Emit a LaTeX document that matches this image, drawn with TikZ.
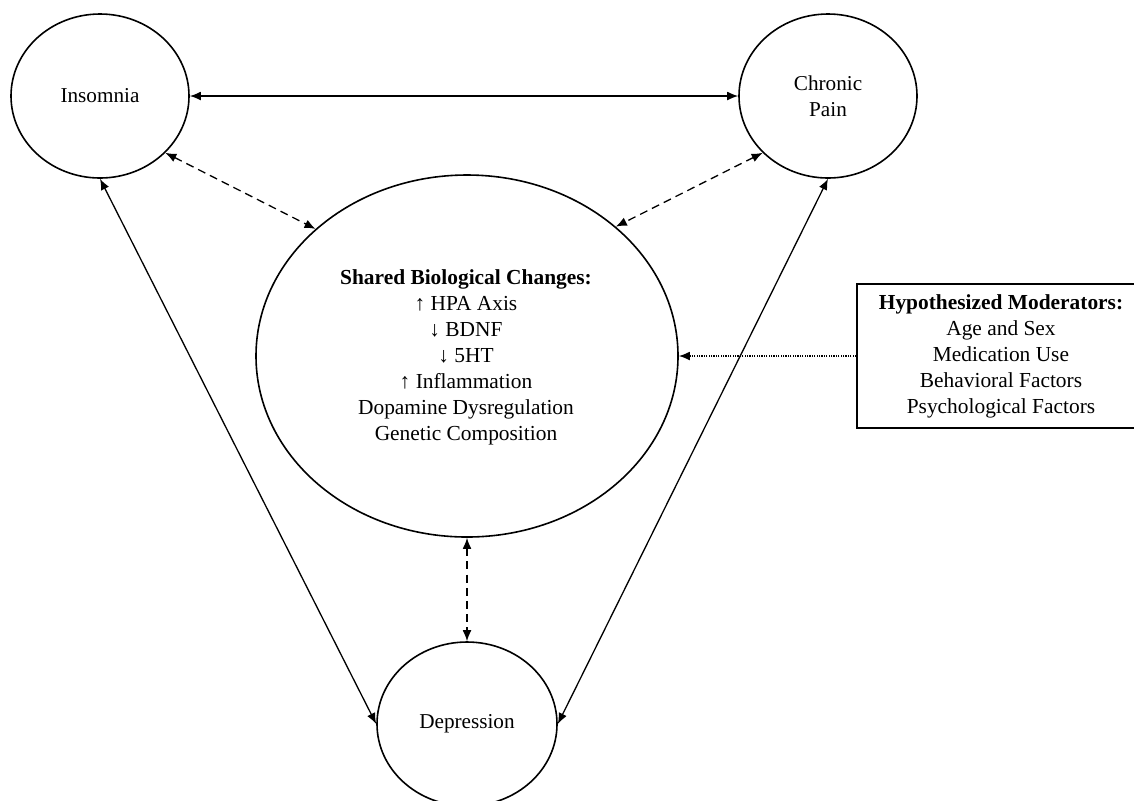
\documentclass[tikz,border=0pt]{standalone}
\usepackage{fontspec}
\setmainfont{Liberation Serif}
\usetikzlibrary{shapes.geometric,arrows.meta}
\begin{document}
\begin{tikzpicture}[x=0.5pt,y=-0.5pt,
  oval/.style={draw,ellipse,line width=0.8pt,inner sep=0pt,align=center,font=\fontsize{10.6pt}{13pt}\selectfont},
  tip/.style={-{Latex[length=5.5pt,width=4.4pt]}},
  both/.style={{Latex[length=5.5pt,width=4.4pt]}-{Latex[length=5.5pt,width=4.4pt]}},
  conn/.style={line width=0.65pt},
  dsh/.style={conn,dash pattern=on 4pt off 2.6pt},
  dtt/.style={line width=0.65pt,dash pattern=on 0.6pt off 0.6pt},
  modbox/.style={draw,line width=0.8pt,inner sep=0pt,align=center,minimum width=144pt,minimum height=72pt,font=\fontsize{10.7pt}{13pt}\selectfont}]
\useasboundingbox (0,0) rectangle (1134,800);
\node[oval,minimum width=89pt,minimum height=82pt] (ins) at (100,96) {Insomnia};
\node[oval,minimum width=89pt,minimum height=82pt] (pain) at (828,96) {Chronic\\Pain};
\node[oval,minimum width=211pt,minimum height=181pt] (bio) at (467,356) {};
\node[align=center,font=\fontsize{10.7pt}{13pt}\selectfont] (biotxt) at (466,357)
  {\textbf{Shared Biological Changes:}\\↑ HPA Axis\\↓ BDNF\\↓ 5HT\\↑ Inflammation\\Dopamine Dysregulation\\Genetic Composition};
\node[oval,minimum width=90pt,minimum height=82pt] (dep) at (467,724) {Depression};
\node[modbox] (mod) at (1001,356)
  {\textbf{Hypothesized Moderators:}\\Age and Sex\\Medication Use\\Behavioral Factors\\Psychological Factors};
\draw[conn,both] (ins.east) -- (pain.west);
\draw[dsh,both] (ins.-41) -- (bio.140);
\draw[dsh,both] (pain.-139) -- (bio.41);
\draw[conn,both] (ins.south) -- (dep.west);
\draw[conn,both] (pain.south) -- (dep.east);
\draw[dsh,both] (bio.south) -- (dep.north);
\draw[dtt,tip] (mod.west) -- (bio.east);
\end{tikzpicture}
\end{document}
